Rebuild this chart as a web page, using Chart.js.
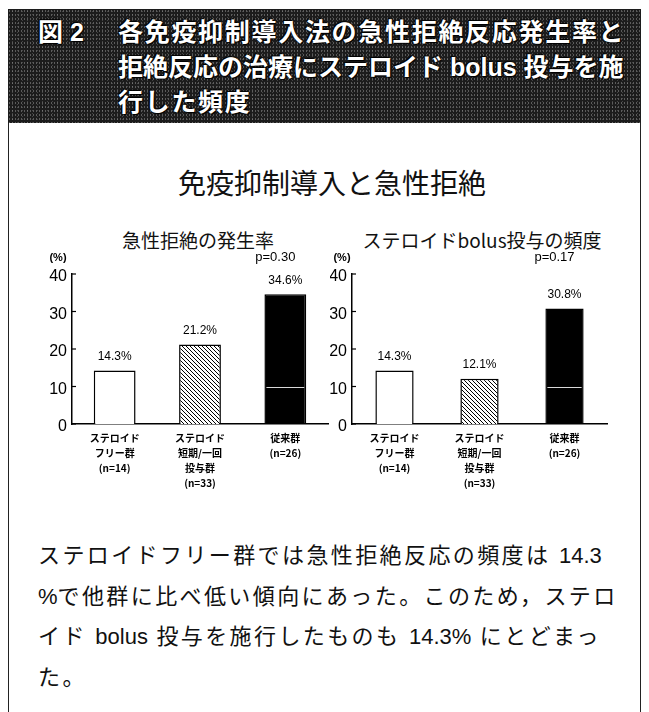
<!DOCTYPE html>
<html lang="ja">
<head>
<meta charset="utf-8">
<script src="https://cdn.jsdelivr.net/npm/chart.js@4.4.1/dist/chart.umd.min.js"></script>
<style>
  body { margin: 0; width: 649px; height: 712px; background: #fff; position: relative; overflow: hidden;
         font-family: 'Liberation Sans', 'Noto Sans CJK JP', sans-serif; color: #111; }
  #frame { position: absolute; left: 8px; top: 9px; width: 633px; height: 730px; border: 1.5px solid #222; box-sizing: border-box; }
  #head { position: absolute; left: 8px; top: 9px; width: 633px; height: 114px; background-color: #1c1c1c;
          background-image: radial-gradient(rgba(170,170,170,.45) 0.6px, transparent 1px),
                            radial-gradient(rgba(120,120,120,.45) 0.6px, transparent 1px);
          background-size: 3px 4px, 5px 3px; background-position: 0 0, 2px 1px; }
  .ht { position: absolute; color: #fff; font-weight: bold; font-size: 25px; line-height: 35px; white-space: nowrap;
        text-shadow: 0 0 2px #000, 1px 1px 1px #000, -1px -1px 1px #000; }
  #fig { left: 30px; top: 6px; }
  #htxt { left: 110px; top: 6px; width: 508px; }
  #htxt .l1 { letter-spacing: 1.7px; }
  .t { position: absolute; text-align: center; font-family: 'Noto Sans CJK JP', sans-serif; white-space: nowrap; }
  #main { left: 132px; top: 165px; width: 400px; font-size: 28px; line-height: 34px; }
  #sub1 { left: 98px; top: 228px; width: 200px; font-size: 19px; line-height: 24px; }
  #sub2 { left: 362px; top: 228px; width: 240px; font-size: 19px; line-height: 24px; }
  #para { position: absolute; left: 38px; top: 536px; width: 600px; font-size: 22px; line-height: 40.5px;
          letter-spacing: 2.4px; white-space: nowrap; }
  #para .l { letter-spacing: 0; }
  canvas { position: absolute; }
  #c1 { left: 10px; top: 250px; }
  #c2 { left: 330px; top: 250px; }
</style>
</head>
<body>
<div id="frame"></div>
<div id="head">
  <div class="ht" id="fig">図 2</div>
  <div class="ht" id="htxt">
    <div class="l1">各免疫抑制導入法の急性拒絶反応発生率と</div>
    <div>拒絶反応の治療にステロイド bolus 投与を施</div>
    <div class="l1">行した頻度</div>
  </div>
</div>
<div class="t" id="main">免疫抑制導入と急性拒絶</div>
<div class="t" id="sub1">急性拒絶の発生率</div>
<div class="t" id="sub2">ステロイドbolus投与の頻度</div>
<canvas id="c1" width="320" height="244"></canvas>
<canvas id="c2" width="292" height="244"></canvas>
<div id="para">
  <div>ステロイドフリー群では急性拒絶反応の頻度は <span class="l">14.3</span></div>
  <div><span class="l">%</span>で他群に比べ低い傾向にあった。このため，ステロ</div>
  <div>イド <span class="l">bolus</span> 投与を施行したものも <span class="l">14.3%</span> にとどまっ</div>
  <div>た。</div>
</div>
<script>
// data
var groups = [['ステロイド', 'フリー群', '(n=14)'], ['ステロイド', '短期/一回', '投与群', '(n=33)'], ['従来群', '(n=26)']]
var rejectionRate = [14.3, 21.2, 34.6]
var bolusRate = [14.3, 12.1, 30.8]
var yTicks = [0, 10, 20, 30, 40]
var pValues = ['p=0.30', 'p=0.17']

function hatch() {
    var c = document.createElement('canvas')
    c.width = 4; c.height = 4
    var g = c.getContext('2d')
    g.fillStyle = '#fff'
    g.fillRect(0, 0, 4, 4)
    g.strokeStyle = '#000'
    g.lineWidth = 1
    g.beginPath()
    g.moveTo(-1, -1); g.lineTo(5, 5)
    g.moveTo(-1, 3); g.lineTo(1, 5)
    g.moveTo(3, -1); g.lineTo(5, 1)
    g.stroke()
    return g.createPattern(c, 'repeat')
}

var marks = {
    id: 'marks',
    afterDatasetsDraw: function (chart, args, opts) {
        var ctx = chart.ctx, area = chart.chartArea, y = chart.scales.y
        var meta = chart.getDatasetMeta(0)
        var data = chart.data.datasets[0].data
        ctx.save()
        // ticks point inward
        ctx.strokeStyle = '#000'
        ctx.lineWidth = 1.2
        yTicks.forEach(function (v) {
            var py = y.getPixelForValue(v)
            ctx.beginPath(); ctx.moveTo(area.left, py); ctx.lineTo(area.left + 4, py); ctx.stroke()
        })
        // faint streak on the black bar
        var last = meta.data[meta.data.length - 1]
        var sy = Math.round(y.getPixelForValue(yTicks[1])) + 0.5
        ctx.strokeStyle = 'rgba(255,255,255,0.85)'
        ctx.lineWidth = 1
        ctx.beginPath(); ctx.moveTo(last.x - last.width / 2 + 2, sy); ctx.lineTo(last.x + last.width / 2 - 2, sy); ctx.stroke()
        // value labels
        ctx.fillStyle = '#000'
        ctx.textAlign = 'center'
        ctx.textBaseline = 'middle'
        ctx.font = '12px "Liberation Sans"'
        meta.data.forEach(function (bar, i) {
            ctx.fillText(data[i].toFixed(1) + '%', bar.x, bar.y - 14)
        })
        ctx.font = '13px "Liberation Sans"'
        ctx.fillText(opts.p, last.x - 10, area.top - 17)
        ctx.font = 'bold 11px "Liberation Sans"'
        ctx.fillText('(%)', area.left - opts.unitDx, area.top - 16)
        ctx.restore()
    }
}

function makeChart(id, values, p, yWidth, padRight, barPct, unitDx) {
    return new Chart(document.getElementById(id), {
        type: 'bar',
        data: {
            labels: groups,
            datasets: [{
                data: values,
                backgroundColor: ['#fff', hatch(), '#000'],
                borderColor: '#000',
                borderWidth: 1.5,
                barPercentage: barPct,
                categoryPercentage: 1
            }]
        },
        options: {
            responsive: false,
            animation: false,
            layout: { padding: { top: 24, right: padRight, left: 0, bottom: 0 } },
            plugins: {
                legend: { display: false },
                tooltip: { enabled: false },
                marks: { p: p, unitDx: unitDx }
            },
            scales: {
                x: {
                    grid: { display: false, drawTicks: false },
                    border: { display: true, color: '#000', width: 1.5 },
                    ticks: {
                        color: '#000', padding: 7, maxRotation: 0, autoSkip: false,
                        font: { family: 'Noto Sans CJK JP', size: 10, weight: 'bold', lineHeight: 1.5 }
                    },
                    afterFit: function (s) { s.height = 70 }
                },
                y: {
                    min: yTicks[0],
                    max: yTicks[yTicks.length - 1],
                    grid: { display: false, drawTicks: false },
                    border: { display: true, color: '#000', width: 1.5 },
                    ticks: {
                        stepSize: 10, color: '#000', padding: 5, labelOffset: 3,
                        font: { family: 'Liberation Sans', size: 16 }
                    },
                    afterFit: function (s) { s.width = yWidth }
                }
            }
        },
        plugins: [marks]
    })
}

makeChart('c1', rejectionRate, pValues[0], 62, 2, 0.49, 14)
makeChart('c2', bolusRate, pValues[1], 22, 15, 0.45, 10)
</script>
</body>
</html>
